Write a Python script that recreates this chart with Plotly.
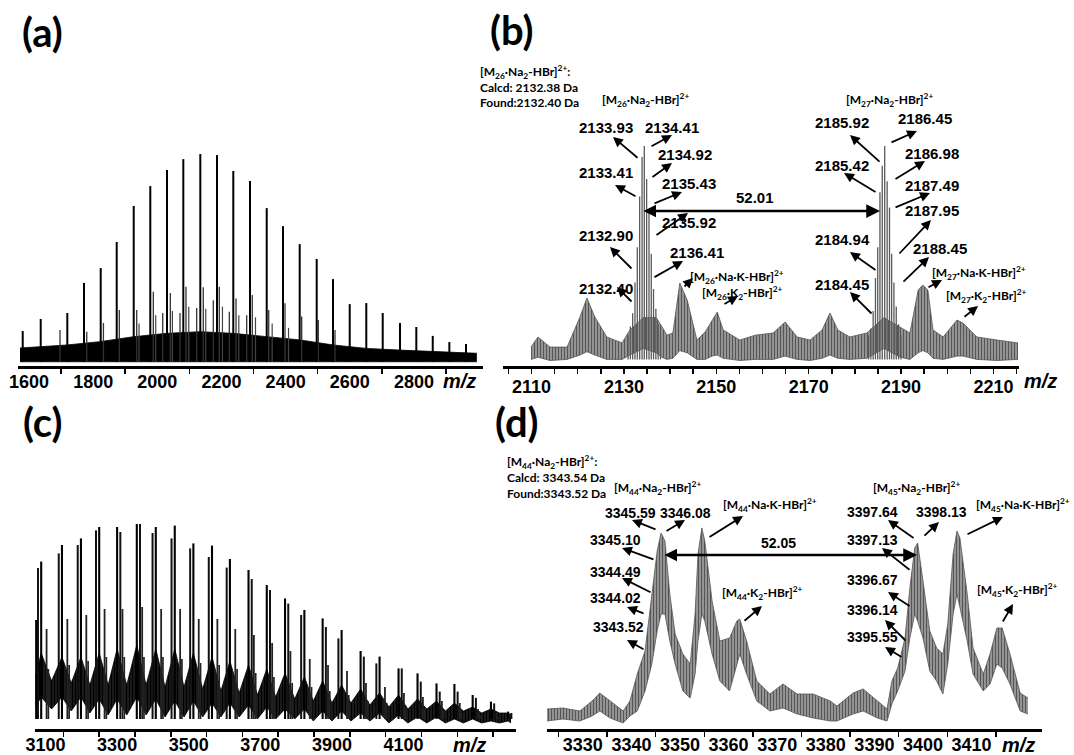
import plotly.graph_objects as go

W, H = 1074, 755

# ---------------- panel (a): full spectrum 1550-3000 ----------------
a_mz = [1580.4, 1636.5, 1719.4, 1771.4, 1823.5, 1873.4, 1926.4, 1978.1, 2030.2, 2081.0,
        2134.0, 2186.0, 2236.8, 2288.9, 2341.0, 2391.8, 2443.8, 2496.8, 2547.6, 2599.7,
        2651.4, 2702.6, 2756.5, 2807.3, 2858.5, 2910.3, 2962.2]
a_int = [16.5, 22.2, 25.0, 39.2, 46.2, 58.5, 75.5, 84.9, 92.5, 97.6,
         100, 99.5, 92.0, 87.3, 74.5, 66.0, 57.5, 50.5, 41.0, 29.2,
         29.7, 25.0, 20.3, 18.4, 14.2, 11.3, 10.4]
a_sat_mz = [1696.6, 1780, 1832, 1881.5, 1935.7, 1987.5, 2016.8, 2040.5, 2070.7, 2089.4,
            2122.7, 2143.3, 2174.5, 2193.2, 2224.4, 2245.3, 2278.6, 2296.0, 2347.2, 2398.0,
            2450.0, 2501.8, 2553.9]
a_sat_int = [17, 16.2, 20.3, 26.4, 26.4, 35, 25, 34.4, 25, 37.4,
             27.4, 37.1, 31, 37.4, 25.6, 31.9, 24, 33.5, 26.4, 29.6,
             23.3, 21.7, 17]
a_sat2_mz = [1943, 1995, 2047, 2098, 2151, 2203, 2254, 2306, 2358, 2409]
a_sat2_int = [20, 24, 26, 28, 27, 28, 24, 23, 20, 18]
a_noise_mz = [1572, 1717, 1821, 1925, 2029, 2133, 2237, 2341, 2445, 2549, 2653, 2756, 2860, 2996]
a_noise_hi = [8.5, 9.9, 11.5, 13.8, 15.4, 16.2, 15.4, 13.8, 12.3, 9.9, 8.3, 7.5, 6.7, 6.0]
a_noise_lo = [2.0, 2.0, 1.8, 1.9, 2.0, 2.0, 1.9, 1.8, 2.0, 2.0, 1.9, 1.9, 2.0, 2.0]
a_ticks = [1600, 1800, 2000, 2200, 2400, 2600, 2800]

# ---------------- panel (b): zoom 2105-2215 ----------------
b26_mz = [2130.90, 2131.40, 2131.90, 2132.40, 2132.90, 2133.41, 2133.93, 2134.41,
          2134.92, 2135.43, 2135.92, 2136.41, 2136.92, 2137.42, 2137.92]
b26_int = [14, 18, 24, 38, 54, 77, 95, 100, 85, 71, 51, 35, 26, 19, 14]
b27_mz = [2182.95, 2183.45, 2183.95, 2184.45, 2184.94, 2185.42, 2185.92, 2186.45,
          2186.98, 2187.49, 2187.95, 2188.45, 2188.95, 2189.45, 2189.95]
b27_int = [14, 17, 25, 40, 54, 79, 91, 100, 84, 72, 51, 38, 27, 19, 14]
b_mz = [2109.9, 2111.4, 2114.0, 2117.7, 2120.5, 2122.0, 2123.7, 2126.3, 2129.6, 2131.3,
        2134.2, 2137.0, 2138.2, 2139.3, 2140.6, 2142.1, 2143.7, 2145.8, 2147.6, 2149.1,
        2150.2, 2151.5, 2155.1, 2158.4, 2162.3, 2164.9, 2167.5, 2170.3, 2172.9, 2174.6,
        2176.3, 2178.9, 2182.6, 2186.3, 2189.8, 2191.9, 2193.7, 2194.7, 2195.8, 2196.9,
        2199.1, 2202.1, 2203.4, 2206.4, 2210.8, 2215.3]
b_hi = [8.6, 13.2, 8.6, 8.6, 22.3, 30.9, 22.3, 13.2, 10.5, 16.4,
        22, 22, 18, 14, 15, 37.7, 30, 11.8, 15.5, 20.9,
        24.5, 16.4, 11.8, 14, 15, 20, 13.2, 11.8, 16.4, 24.1,
        16.4, 13.2, 15, 22, 17.7, 15, 34.5, 36.8, 34.5, 16.4,
        13.2, 20.9, 19.5, 13.2, 11.8, 10.5]
b_lo = [3, 4, 2.5, 3, 5, 6.5, 5, 3, 3, 5,
        8, 6, 4, 3, 3.5, 7, 6, 3, 3, 4.5,
        5, 3.5, 2.5, 3, 3, 4.5, 3, 2.5, 3.5, 5,
        3.5, 3, 3.5, 8, 4, 3, 6, 7, 6, 3.5,
        3, 4.5, 4.5, 3, 2.5, 3]
b_ticks = [2110, 2130, 2150, 2170, 2190, 2210]

# ---------------- panel (c): full spectrum 3070-4410 ----------------
c_mz = [3074, 3088, 3146, 3199, 3250, 3300, 3355, 3408, 3461, 3513, 3565, 3615, 3667, 3718,
        3769, 3823, 3874, 3927, 3980, 4033, 4086, 4139, 4192, 4242, 4293, 4344, 4392]
c_int = [54.5, 83.7, 92, 95.3, 101, 101, 102.5, 101, 101.7, 92.8, 91.7, 85, 79.5, 72,
         65.3, 59.5, 55.3, 49.5, 39, 36.2, 30.3, 27.8, 22.8, 22.5, 17, 13.7, 8.7]
c_pair_mz = [3079, 3137, 3190, 3241, 3309, 3364, 3399, 3452, 3504, 3556, 3606, 3676, 3727,
             3778, 3814, 3883, 3918, 3989, 4024, 4095, 4148, 4201, 4251, 4302, 4353, 4401]
c_pair_int = [80.5, 87.8, 92, 99.3, 98.5, 102.5, 98, 95.3, 90.3, 86, 80.7, 75, 69.5,
              62.7, 57, 51, 45.3, 36.2, 32.8, 30.3, 23.7, 18.7, 18.7, 15.6, 12.8, 8]
c_sh_mz = [3103, 3161, 3214, 3265, 3315, 3370, 3423, 3476, 3528, 3580, 3630, 3682, 3733,
           3784, 3838, 3889, 3942, 3995, 4048, 4101, 4154, 4207, 4257, 4308, 4359]
c_sh_int = [50, 55, 57, 60, 60, 61, 60, 60, 55, 55, 50, 47, 43,
            39, 35, 32, 29, 23, 21, 18, 16, 14, 13, 10, 8]
c_sh2_mz = [3108, 3166, 3219, 3270, 3320, 3375, 3428, 3481, 3533, 3585, 3635, 3687, 3738,
            3789, 3843, 3894, 3947, 4000, 4053, 4106, 4159, 4212, 4262, 4313, 4364]
c_sh2_int = [30, 32, 34, 36, 36, 36, 36, 35, 33, 32, 30, 28, 26,
             23, 21, 19, 17, 14, 13, 11, 10, 9, 8, 7, 6]
c_band_mz = [3072, 3088, 3117, 3146, 3172, 3199, 3224, 3250, 3275, 3300, 3327, 3355, 3381,
             3408, 3434, 3461, 3487, 3513, 3539, 3565, 3590, 3615, 3641, 3667, 3692, 3718,
             3743, 3769, 3796, 3823, 3848, 3874, 3900, 3927, 3953, 3980, 4006, 4033, 4059,
             4086, 4112, 4139, 4165, 4192, 4217, 4242, 4267, 4293, 4318, 4344, 4368, 4392, 4400]
c_band_hi = [26, 38, 24, 36, 23, 36, 22, 38, 22, 40, 22, 42, 22, 40, 21, 40, 21, 38, 20, 36,
             19, 34, 18, 32, 17, 30, 16, 28, 15, 26, 14, 24, 13, 22, 13, 20, 12, 18, 11, 17,
             10, 15, 10, 14, 9, 13, 9, 11, 8, 10, 8, 8, 7]
c_band_lo = [11, 16, 10, 16, 9, 16, 8, 15, 7, 15, 7, 16, 7, 15, 6, 14, 6, 14, 6, 13,
             6, 13, 6, 12, 5, 11, 5, 10, 5, 10, 4, 9, 4, 9, 4, 8, 4, 8, 3, 7,
             3, 6, 3, 6, 3, 5, 3, 5, 3, 4, 3, 4, 3]
c_ticks = [3100, 3300, 3500, 3700, 3900, 4100]

# ---------------- panel (d): zoom 3322-3424 ----------------
d_mz = [3322.6, 3325.9, 3329.4, 3331.9, 3333.5, 3335.6, 3338.3, 3339.7, 3341.2, 3342.8,
        3344.2, 3345.3, 3346.1, 3346.9, 3347.9, 3349.0, 3350.6, 3352.1, 3353.1, 3353.7,
        3354.5, 3355.1, 3356.6, 3358.2, 3360.2, 3361.7, 3362.3, 3363.7, 3365.8, 3368.5,
        3371.2, 3374.1, 3377.4, 3380.9, 3382.3, 3385.6, 3387.7, 3390.6, 3392.6, 3393.6,
        3394.8, 3396.3, 3397.3, 3398.3, 3398.9, 3400.0, 3401.4, 3402.8, 3404.1, 3405.1,
        3406.2, 3407.0, 3407.6, 3409.1, 3410.3, 3412.4, 3413.8, 3415.2, 3416.3, 3417.9,
        3420.0, 3421.6]
d_hi = [10, 10.5, 9, 14, 18, 14, 9, 14, 27.5, 39,
        67.5, 89, 98, 94, 67.5, 47.5, 37.5, 32.5, 57.5, 87.5,
        100.5, 94, 64, 44, 45.5, 54, 55, 44, 24, 17.5,
        22.5, 17.5, 17.5, 14, 11.5, 18, 20, 14, 10, 24,
        30.5, 45.5, 70.5, 90.5, 93, 74, 49, 40.5, 37.5, 52.5,
        87.5, 99, 95.5, 67.5, 40.5, 27.5, 37.5, 50.5, 50.5, 37.5,
        18, 15.5]
d_lo = [4, 5, 4, 6.5, 9, 5.5, 3, 6.5, 9, 19,
        32.5, 49, 57.5, 57.5, 44, 32.5, 19, 15.5, 27.5, 44,
        57.5, 54, 37.5, 24, 19, 32.5, 37.5, 27.5, 14, 9,
        10.5, 7.5, 5.5, 4, 4, 7.5, 9, 5.5, 4, 12.5,
        19, 29, 45.5, 57.5, 54, 45.5, 29, 24, 17.5, 32.5,
        57.5, 67.5, 60.5, 44, 27.5, 19, 22.5, 32.5, 30.5, 22.5,
        9, 7.5]
d_ticks = [3330, 3340, 3350, 3360, 3370, 3380, 3390, 3400, 3410]

# ---------------- helpers ----------------
fig = go.Figure()


def sticks(mz, inten, base):
    xs, ys = [], []
    for m, v in zip(mz, inten):
        xs += [m, m, None]
        ys += [base, v, None]
    return xs, ys


def add_sticks(mz, inten, base, ax, color, width):
    xs, ys = sticks(mz, inten, base)
    fig.add_trace(go.Scatter(x=xs, y=ys, mode="lines", line=dict(color=color, width=width),
                             xaxis=ax[0], yaxis=ax[1], hoverinfo="skip", showlegend=False))


def add_band(mz, lo, hi, ax, line_color, fg, bg, pattern):
    fig.add_trace(go.Scatter(x=mz, y=lo, mode="lines", line=dict(color=line_color, width=0.8),
                             xaxis=ax[0], yaxis=ax[1], hoverinfo="skip", showlegend=False))
    kw = dict(fill="tonexty", fillcolor=fg)
    if pattern:
        kw["fillpattern"] = dict(shape="|", fgcolor=fg, bgcolor=bg, size=3, solidity=0.6)
    fig.add_trace(go.Scatter(x=mz, y=hi, mode="lines", line=dict(color=line_color, width=0.8),
                             xaxis=ax[0], yaxis=ax[1], hoverinfo="skip", showlegend=False, **kw))


A, B, C, D = ("x", "y"), ("x2", "y2"), ("x3", "y3"), ("x4", "y4")

# (a)
add_band(a_noise_mz, a_noise_lo, a_noise_hi, A, "black", "black", "white", False)
add_sticks(a_sat2_mz, a_sat2_int, 2, A, "#444444", 1.2)
add_sticks(a_sat_mz, a_sat_int, 2, A, "#333333", 1.3)
add_sticks(a_mz, a_int, 2, A, "black", 2.0)
# (b)
add_band(b_mz, b_lo, b_hi, B, "#555555", "#555555", "#bdbdbd", True)
add_sticks(b26_mz, b26_int, 3, B, "#5a5a5a", 1.3)
add_sticks(b27_mz, b27_int, 3, B, "#5a5a5a", 1.3)
# (c)
add_band(c_band_mz, c_band_lo, c_band_hi, C, "black", "black", "#2a2a2a", True)
add_sticks(c_sh2_mz, c_sh2_int, 5, C, "#222222", 1.7)
add_sticks(c_sh_mz, c_sh_int, 5, C, "#222222", 1.8)
add_sticks(c_pair_mz, c_pair_int, 5, C, "#111111", 2.0)
add_sticks(c_mz, c_int, 5, C, "black", 2.1)
# (d)
add_band(d_mz, d_lo, d_hi, D, "#555555", "#555555", "#bdbdbd", True)

# ---------------- axes ----------------
TF = dict(family="Liberation Sans, Arial", size=18, color="black", weight="bold")


def xaxis(dom, rng, ticks, anchor, minor_tick0, minor_dtick, major_ticks):
    return dict(domain=[dom[0] / W, dom[1] / W], range=rng, anchor=anchor, automargin=False,
                showline=True, linecolor="black", linewidth=2.5, mirror=False,
                ticks="outside" if major_ticks else "", ticklen=5, tickwidth=1.5, tickcolor="black",
                tickmode="array", tickvals=ticks, ticktext=[str(t) for t in ticks],
                tickfont=TF, showgrid=False, zeroline=False, ticklabelstandoff=-2,
                minor=dict(tickmode="linear", tick0=minor_tick0, dtick=minor_dtick, ticks="outside",
                           ticklen=5, tickwidth=1.5, tickcolor="black", showgrid=False))


def yaxis(top, bottom, rng, anchor):
    return dict(domain=[1 - bottom / H, 1 - top / H], range=rng, anchor=anchor, visible=False,
                showgrid=False, zeroline=False, automargin=False)


fig.update_layout(
    template="none",
    width=W, height=H, margin=dict(l=0, r=0, t=0, b=0, pad=0),
    paper_bgcolor="white", plot_bgcolor="rgba(0,0,0,0)", showlegend=False,
    xaxis=xaxis((18, 483), [1565.7, 3015.2], a_ticks, "y", 1700, 200, False),
    yaxis=yaxis(100, 366, [0, 125.5], "x"),
    xaxis2=xaxis((503, 1019), [2103.83, 2215.52], b_ticks, "y2", 2105, 5, True),
    yaxis2=yaxis(100, 366, [0, 120.9], "x2"),
    xaxis3=xaxis((35, 516), [3070.7, 4414], c_ticks, "y3", 3150, 100, False),
    yaxis3=yaxis(470, 729, [0, 129.5], "x3"),
    xaxis4=xaxis((547, 1042), [3322.63, 3424.49], d_ticks, "y4", 3325, 10, False),
    yaxis4=yaxis(470, 729, [0, 129.5], "x4"),
)

# ---------------- annotations ----------------
ann = []


def P(px, py):
    return px / W, 1 - py / H


def text(t, px, py, size, family="Liberation Sans, Arial", xanchor="center", italic=False):
    x, y = P(px, py)
    s = f"<b>{t}</b>"
    if italic:
        s = f"<b><i>{t}</i></b>"
    ann.append(dict(x=x, y=y, xref="paper", yref="paper", text=s, showarrow=False,
                    xanchor=xanchor, yanchor="middle", font=dict(family=family, size=size, color="black")))


def arrow(tail, head, both=False, width=1.8):
    hx, hy = P(*head)
    a = dict(x=hx, y=hy, xref="paper", yref="paper", ax=tail[0] - head[0], ay=tail[1] - head[1],
             axref="pixel", ayref="pixel", text="", showarrow=True, arrowhead=2, arrowsize=1.1,
             arrowwidth=width, arrowcolor="black", standoff=0, startstandoff=0)
    if both:
        a["arrowside"] = "end+start"
        a["startarrowhead"] = 2
        a["startarrowsize"] = 1.0
    ann.append(a)


PANEL_FONT = "Lato, Open Sans, sans-serif"
text("(a)", 42, 32, 40, PANEL_FONT)
text("(b)", 512, 30, 40, PANEL_FONT)
text("(c)", 42, 422, 40, PANEL_FONT)
text("(d)", 517, 422, 40, PANEL_FONT)

for px, py in [(459, 381), (1040, 381), (469, 745), (1018, 745)]:
    text("m/z", px, py, 20, italic=True)

SMALL = "Lato, Liberation Sans, Arial"
# (b) labels
text("[M<sub>26</sub>·Na<sub>2</sub>-HBr]<sup>2+</sup>:", 478, 72, 12, SMALL, xanchor="left")
text("Calcd: 2132.38 Da", 478, 87, 12, SMALL, xanchor="left")
text("Found:2132.40 Da", 478, 102, 12, SMALL, xanchor="left")
text("[M<sub>26</sub>·Na<sub>2</sub>-HBr]<sup>2+</sup>", 645, 100, 12, SMALL)
text("[M<sub>26</sub>·Na·K-HBr]<sup>2+</sup>", 737, 277, 12, SMALL)
text("[M<sub>26</sub>·K<sub>2</sub>-HBr]<sup>2+</sup>", 742, 293, 12, SMALL)
text("[M<sub>27</sub>·Na<sub>2</sub>-HBr]<sup>2+</sup>", 889, 100, 12, SMALL)
text("[M<sub>27</sub>·Na·K-HBr]<sup>2+</sup>", 979, 273, 12, SMALL)
text("[M<sub>27</sub>·K<sub>2</sub>-HBr]<sup>2+</sup>", 987, 296, 12, SMALL)
for t, px, py in [("2133.93", 606, 127), ("2134.41", 672, 127), ("2134.92", 685, 155),
                  ("2133.41", 606, 172), ("2135.43", 689, 183), ("2135.92", 689, 223),
                  ("2132.90", 606, 235), ("2136.41", 697, 252), ("2132.40", 606, 288),
                  ("52.01", 755, 198),
                  ("2185.92", 842, 123), ("2186.45", 925, 118), ("2185.42", 842, 165),
                  ("2186.98", 932, 153), ("2187.49", 932, 185), ("2187.95", 932, 211),
                  ("2184.94", 842, 239), ("2188.45", 940, 248), ("2184.45", 842, 284)]:
    text(t, px, py, 15)

for tail, head in [((639, 159), (613, 137)), ((650, 147), (672, 135)), ((651, 178), (672, 163)),
                   ((637, 197), (615, 185)), ((653, 204), (682, 192)), ((655, 236), (688, 213)),
                   ((633, 270), (610, 247)), ((653, 278), (683, 261)), ((633, 303), (617, 287)),
                   ((683, 288), (693, 278)), ((723, 305), (738, 296)),
                   ((881, 163), (850, 135)), ((890, 143), (917, 131)), ((877, 193), (844, 173)),
                   ((894, 180), (925, 161)), ((894, 208), (930, 193)), ((898, 255), (931, 220)),
                   ((877, 271), (850, 252)), ((902, 283), (929, 257)), ((873, 315), (850, 292)),
                   ((927, 288), (942, 280)), ((963, 318), (978, 306))]:
    arrow(tail, head)
arrow((642, 211), (880, 211), both=True, width=2.5)

# (d) labels
text("[M<sub>44</sub>·Na<sub>2</sub>-HBr]<sup>2+</sup>:", 505, 462, 12, SMALL, xanchor="left")
text("Calcd: 3343.54 Da", 505, 477, 12, SMALL, xanchor="left")
text("Found:3343.52 Da", 505, 493, 12, SMALL, xanchor="left")
text("[M<sub>44</sub>·Na<sub>2</sub>-HBr]<sup>2+</sup>", 657, 488, 12, SMALL)
text("[M<sub>44</sub>·Na·K-HBr]<sup>2+</sup>", 770, 505, 12, SMALL)
text("[M<sub>44</sub>·K<sub>2</sub>-HBr]<sup>2+</sup>", 762, 593, 12, SMALL)
text("[M<sub>45</sub>·Na<sub>2</sub>-HBr]<sup>2+</sup>", 916, 488, 12, SMALL)
text("[M<sub>45</sub>·Na·K-HBr]<sup>2+</sup>", 1072, 505, 12, SMALL, xanchor="right")
text("[M<sub>45</sub>·K<sub>2</sub>-HBr]<sup>2+</sup>", 1017, 590, 12, SMALL)
for t, px, py in [("3345.59", 630, 513), ("3346.08", 685, 513), ("3345.10", 615, 540),
                  ("52.05", 778, 543), ("3344.49", 615, 572), ("3344.02", 615, 598),
                  ("3343.52", 618, 627),
                  ("3397.64", 872, 512), ("3398.13", 941, 512), ("3397.13", 872, 540),
                  ("3396.67", 872, 580), ("3396.14", 872, 610), ("3395.55", 872, 637)]:
    text(t, px, py, 14)

for tail, head in [((657, 530), (632, 520)), ((665, 532), (685, 520)), ((708, 538), (743, 516)),
                   ((655, 560), (622, 548)), ((652, 593), (622, 578)), ((645, 614), (627, 607)),
                   ((645, 650), (627, 640)), ((743, 622), (762, 606)),
                   ((915, 539), (888, 520)), ((923, 537), (939, 522)), ((966, 535), (1003, 517)),
                   ((911, 571), (882, 548)), ((911, 607), (888, 592)), ((907, 642), (885, 620)),
                   ((903, 658), (885, 647)), ((1002, 623), (1013, 604))]:
    arrow(tail, head)
arrow((663, 555), (917, 555), both=True, width=2.5)

fig.update_layout(annotations=ann)
fig.write_html(
    "out.html",
    config={"displayModeBar": False, "staticPlot": True},
    post_script="document.body.style.margin='0px';document.body.style.padding='0px';"
                "document.body.style.overflow='hidden';",
)
